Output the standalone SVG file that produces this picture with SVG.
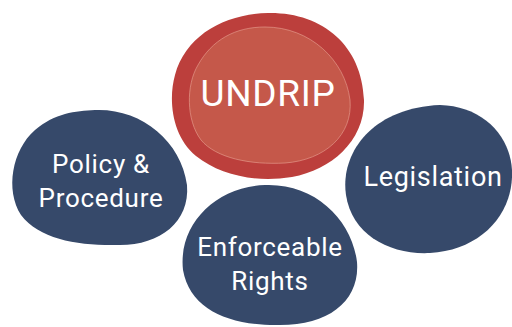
<svg xmlns="http://www.w3.org/2000/svg" width="512" height="327" viewBox="0 0 512 327">
<style>
.blob{fill:#36496a}
.lbl{fill:#ffffff;font-family:Roboto,"Open Sans","DejaVu Sans",sans-serif;font-weight:400;text-anchor:middle;letter-spacing:0.7px}
.small{font-size:26px}
</style>
<rect width="512" height="327" fill="#ffffff"/>
<g id="connectors"></g>
<g id="undrip">
<path d="M 268,13 C 322,12 362,45 364,100 C 365,140 332,170 292,177 C 255,183 220,175 196,156 C 172,136 168,100 175,75 C 186,35 225,14 268,13 Z" fill="#bc3f3c"/>
<path d="M 265,27 C 310,27 345,60 350,100 C 353,135 325,160 285,163 C 250,165 216,158 201,140 C 186,120 186,85 198,65 C 212,40 235,27 265,27 Z" fill="#c5584a" stroke="#e9a596" stroke-width="0.6"/>
<text class="lbl" x="268" y="106" font-size="37">UNDRIP</text>
</g>
<g id="policy">
<path class="blob" d="M 95,110 C 140,108 181,140 187,185 C 190,222 160,245 120,245 C 80,246 40,240 21,215 C 5,190 12,150 35,130 C 55,113 75,111 95,110 Z"/>
<text class="lbl small" x="101" y="173">Policy &amp;</text>
<text class="lbl small" x="101" y="207">Procedure</text>
</g>
<g id="legislation">
<path class="blob" d="M 440,105 C 482,106 510,135 512,170 C 514,215 480,250 430,253 C 390,255 352,235 346,195 C 340,155 370,108 440,105 Z"/>
<text class="lbl" x="433" y="186" font-size="27">Legislation</text>
</g>
<g id="enforceable">
<path class="blob" d="M 265,185 C 315,183 352,220 357,262 C 360,300 330,325 280,325 C 230,326 190,310 183,270 C 178,225 215,187 265,185 Z"/>
<text class="lbl small" x="270" y="256">Enforceable</text>
<text class="lbl small" x="270" y="290">Rights</text>
</g>
</svg>
